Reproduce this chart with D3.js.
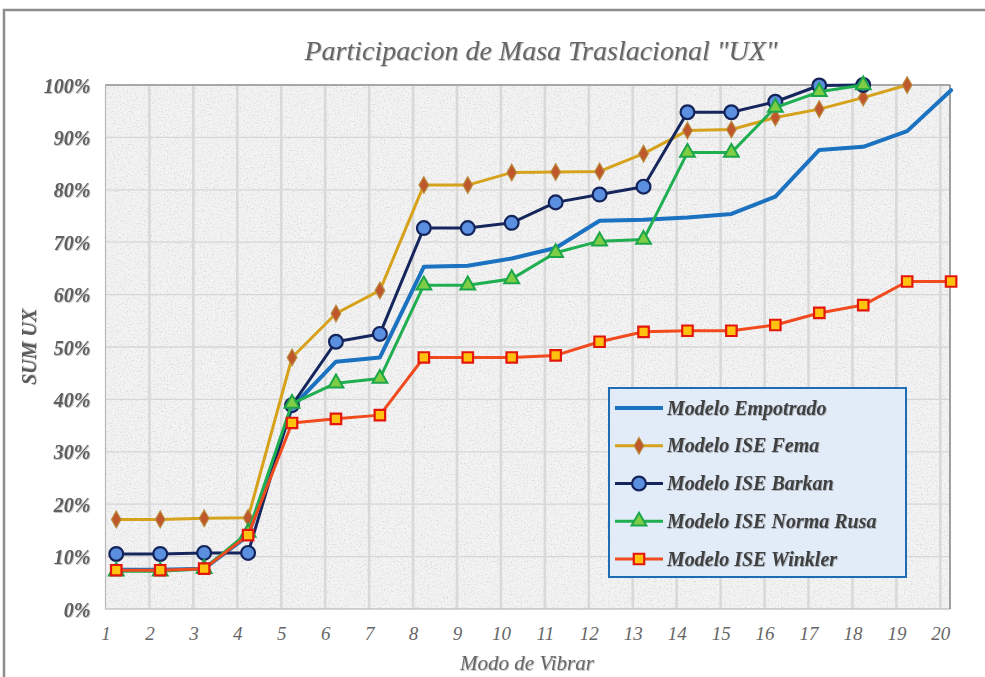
<!DOCTYPE html>
<html>
<head>
<meta charset="utf-8">
<script src="https://cdn.jsdelivr.net/npm/d3@7/dist/d3.min.js"></script>
<style>
  html, body { margin: 0; padding: 0; background: #ffffff; }
  svg { display: block; }
</style>
</head>
<body>
<svg id="chart" width="985" height="677"></svg>
<script>
// ---------------- DATA ----------------
const modos = [1,2,3,4,5,6,7,8,9,10,11,12,13,14,15,16,17,18,19,20];
const yTicks = [0,10,20,30,40,50,60,70,80,90,100];

const empotrado = [7.5,7.5,7.7,14.0,38.5,47.2,48.0,65.3,65.5,66.9,68.9,74.1,74.3,74.7,75.4,78.7,87.6,88.2,91.2,99.0];
const fema      = [17.1,17.1,17.3,17.4,48.0,56.4,60.8,80.9,80.9,83.3,83.4,83.5,86.9,91.3,91.5,93.8,95.4,97.6,100.0];
const barkan    = [10.5,10.5,10.7,10.7,38.9,51.0,52.5,72.7,72.7,73.7,77.6,79.1,80.6,94.8,94.8,96.8,99.9,100.0];
const rusa      = [7.2,7.2,7.7,14.6,39.2,43.1,44.0,61.8,61.8,63.0,68.0,70.2,70.5,87.1,87.1,95.7,98.7,100.0];
const winkler   = [7.4,7.4,7.7,14.1,35.5,36.3,37.0,48.0,48.0,48.0,48.4,51.0,52.9,53.1,53.1,54.2,56.5,58.0,62.5,62.5];

const seriesNames = ["Modelo Empotrado","Modelo ISE Fema","Modelo ISE Barkan","Modelo ISE Norma Rusa","Modelo ISE Winkler"];

// ---------------- FONT PICK (serif if available) ----------------
function pickFont(cands) {
  const c = document.createElement("canvas").getContext("2d");
  const probe = "Participacion de Masa WMmli 0123%";
  const base = {};
  ["monospace", "sans-serif"].forEach(b => { c.font = `italic 40px ${b}`; base[b] = c.measureText(probe).width; });
  for (const f of cands) {
    let ok = false;
    ["monospace", "sans-serif"].forEach(b => {
      c.font = `italic 40px "${f}", ${b}`;
      if (Math.abs(c.measureText(probe).width - base[b]) > 0.5) ok = true;
    });
    if (ok) return `"${f}"`;
  }
  return "serif";
}
const FONT = pickFont(["Liberation Serif", "DejaVu Serif", "Tinos", "Times New Roman", "Noto Serif", "FreeSerif", "Nimbus Roman"]);

// ---------------- STYLE ----------------
const styles = [
  { values: empotrado, line: "#1a72c0", width: 4,   symbol: null },
  { values: fema,      line: "#d6a21c", width: 3,   symbol: d3.symbolDiamond, size: 80, fill: "#c0562c", stroke: "#b98a3c", sw: 1.2 },
  { values: barkan,    line: "#15265c", width: 3,   symbol: d3.symbolCircle,  size: 150, fill: "#5b8fe0", stroke: "#14245a", sw: 2.2 },
  { values: rusa,      line: "#1fae50", width: 3,   symbol: d3.symbolTriangle,size: 95, fill: "#7fcc45", stroke: "#1ca64a", sw: 2 },
  { values: winkler,   line: "#f04a1e", width: 3,   symbol: d3.symbolSquare,  size: 110, fill: "#ffc20e", stroke: "#e4160c", sw: 2.2 }
];

const svg = d3.select("#chart").style("font-family", FONT).style("font-style", "italic");
const W = 985, H = 677;
const plot = { left: 105.5, right: 950, top: 85, bottom: 609 };
const pointOffset = 0.245; // markers sit slightly to the right of category ticks

const x = d3.scaleLinear().domain([1, 20.22]).range([plot.left, plot.right]);
const y = d3.scaleLinear().domain([0, 100]).range([plot.bottom, plot.top]);

// ---------------- DEFS ----------------
const defs = svg.append("defs");
const f = defs.append("filter").attr("id", "grain")
  .attr("x", 0).attr("y", 0).attr("width", 1).attr("height", 1);
f.append("feTurbulence").attr("type", "fractalNoise").attr("baseFrequency", 0.7)
  .attr("numOctaves", 2).attr("seed", 5).attr("result", "noise");
f.append("feColorMatrix").attr("in", "noise").attr("type", "matrix")
  .attr("values", "0 0 0 0 0.66  0 0 0 0 0.66  0 0 0 0 0.68  2.6 0 0 0 -1.3")
  .attr("result", "dark");
f.append("feComposite").attr("in", "dark").attr("in2", "SourceGraphic").attr("operator", "over");

const f2 = defs.append("filter").attr("id", "grainBlue")
  .attr("x", 0).attr("y", 0).attr("width", 1).attr("height", 1);
f2.append("feTurbulence").attr("type", "fractalNoise").attr("baseFrequency", 0.7)
  .attr("numOctaves", 2).attr("seed", 9).attr("result", "noise");
f2.append("feColorMatrix").attr("in", "noise").attr("type", "matrix")
  .attr("values", "0 0 0 0 0.78  0 0 0 0 0.84  0 0 0 0 0.93  2.4 0 0 0 -1.15")
  .attr("result", "dark");
f2.append("feComposite").attr("in", "dark").attr("in2", "SourceGraphic").attr("operator", "over");

const sh = defs.append("filter").attr("id", "shadow").attr("x", "-10%").attr("y", "-20%").attr("width", "120%").attr("height", "140%");
sh.append("feDropShadow").attr("dx", 0.8).attr("dy", 0.8).attr("stdDeviation", 0.4).attr("flood-color", "#000").attr("flood-opacity", 0.3);

// ---------------- FRAME ----------------
svg.append("path")
  .attr("d", `M4,${H} V10 H${W}`)
  .attr("fill", "none").attr("stroke", "#8d8d8d").attr("stroke-width", 2.5);

// ---------------- PLOT BACKGROUND ----------------
svg.append("rect")
  .attr("x", plot.left).attr("y", plot.top)
  .attr("width", plot.right - plot.left).attr("height", plot.bottom - plot.top)
  .attr("fill", "#f3f3f3").attr("filter", "url(#grain)");

// gridlines
svg.append("g").selectAll("line").data(yTicks.slice(1, -1)).join("line")
  .attr("x1", plot.left).attr("x2", plot.right)
  .attr("y1", d => y(d)).attr("y2", d => y(d))
  .attr("stroke", "#d6d6d6").attr("stroke-width", 1.3);
svg.append("g").selectAll("line").data(modos.slice(1)).join("line")
  .attr("x1", d => x(d)).attr("x2", d => x(d))
  .attr("y1", plot.top).attr("y2", plot.bottom)
  .attr("stroke", "#d9d9d9").attr("stroke-width", 2.6);

svg.append("rect")
  .attr("x", plot.left).attr("y", plot.top)
  .attr("width", plot.right - plot.left).attr("height", plot.bottom - plot.top)
  .attr("fill", "none").attr("stroke", "#b8b8b8").attr("stroke-width", 1.2);
svg.append("line").attr("x1", plot.left).attr("x2", plot.right).attr("y1", plot.top).attr("y2", plot.top)
  .attr("stroke", "#9a9a9a").attr("stroke-width", 1.5);
svg.append("line").attr("x1", plot.right).attr("x2", plot.right).attr("y1", plot.top).attr("y2", plot.bottom)
  .attr("stroke", "#8f8f8f").attr("stroke-width", 1.5);

// ---------------- AXES ----------------
const yAxis = d3.axisLeft(y).tickValues(yTicks).tickFormat(d => d + "%").tickSize(0).tickPadding(15);
const gy = svg.append("g").attr("transform", `translate(${plot.left},0)`).call(yAxis)
  .attr("font-family", null);
gy.select(".domain").remove();
gy.selectAll("text")
  .style("font-family", FONT).style("font-style", "italic").attr("font-weight", "bold")
  .attr("font-size", 20).attr("fill", "#5e5e5e").attr("dy", "0.35em")
  .attr("filter", "url(#shadow)");

const xAxis = d3.axisBottom(x).tickValues(modos).tickFormat(d => d).tickSize(0).tickPadding(18);
const gx = svg.append("g").attr("transform", `translate(0,${plot.bottom})`).call(xAxis)
  .attr("font-family", null);
gx.select(".domain").remove();
gx.selectAll("text")
  .style("font-family", FONT).style("font-style", "italic")
  .attr("font-size", 19).attr("fill", "#666666");

// titles
svg.append("text").attr("x", 541).attr("y", 60).attr("text-anchor", "middle")
  .attr("font-size", 28).attr("fill", "#666666").attr("filter", "url(#shadow)")
  .text('Participacion de Masa Traslacional "UX"');
svg.append("text").attr("x", 527).attr("y", 670).attr("text-anchor", "middle")
  .attr("font-size", 21).attr("fill", "#666666").attr("filter", "url(#shadow)")
  .text("Modo de Vibrar");
svg.append("text").attr("transform", "translate(36,347) rotate(-90)").attr("text-anchor", "middle")
  .attr("font-size", 20).attr("font-weight", "bold").attr("fill", "#5a5a5a").attr("filter", "url(#shadow)")
  .text("SUM UX");

// ---------------- SERIES ----------------
const line = d3.line().x(d => x(d.m + pointOffset)).y(d => y(d.v));
styles.forEach((s, i) => {
  const pts = s.values.map((v, k) => ({ m: modos[k], v }));
  const g = svg.append("g");
  g.append("path").datum(pts).attr("d", line)
    .attr("fill", "none").attr("stroke", s.line).attr("stroke-width", s.width)
    .attr("stroke-linejoin", "round").attr("stroke-linecap", "round");
  if (s.symbol) {
    g.selectAll("path.mk").data(pts).join("path").attr("class", "mk")
      .attr("d", d3.symbol().type(s.symbol).size(s.size))
      .attr("transform", d => `translate(${x(d.m + pointOffset)},${y(d.v)})`)
      .attr("fill", s.fill).attr("stroke", s.stroke).attr("stroke-width", s.sw);
  }
});

// ---------------- LEGEND ----------------
const lg = { x: 609, y: 388, w: 297, h: 189 };
const legend = svg.append("g");
legend.append("rect").attr("x", lg.x).attr("y", lg.y).attr("width", lg.w).attr("height", lg.h)
  .attr("fill", "#e1ecf8").attr("filter", "url(#grainBlue)");
legend.append("rect").attr("x", lg.x).attr("y", lg.y).attr("width", lg.w).attr("height", lg.h)
  .attr("fill", "none").attr("stroke", "#1f6cb6").attr("stroke-width", 2);

const rowY = d3.scalePoint().domain(seriesNames).range([408, 559]);
seriesNames.forEach((name, i) => {
  const s = styles[i];
  const yy = rowY(name);
  legend.append("line").attr("x1", 615).attr("x2", 663).attr("y1", yy).attr("y2", yy)
    .attr("stroke", s.line).attr("stroke-width", s.width);
  if (s.symbol) {
    legend.append("path").attr("d", d3.symbol().type(s.symbol).size(s.size))
      .attr("transform", `translate(639,${yy})`)
      .attr("fill", s.fill).attr("stroke", s.stroke).attr("stroke-width", s.sw);
  }
  legend.append("text").attr("x", 667).attr("y", yy).attr("dy", "0.33em")
    .attr("font-size", 20).attr("font-weight", "bold").attr("fill", "#3f3f3f")
    .attr("filter", "url(#shadow)")
    .text(name);
});
</script>
</body>
</html>
